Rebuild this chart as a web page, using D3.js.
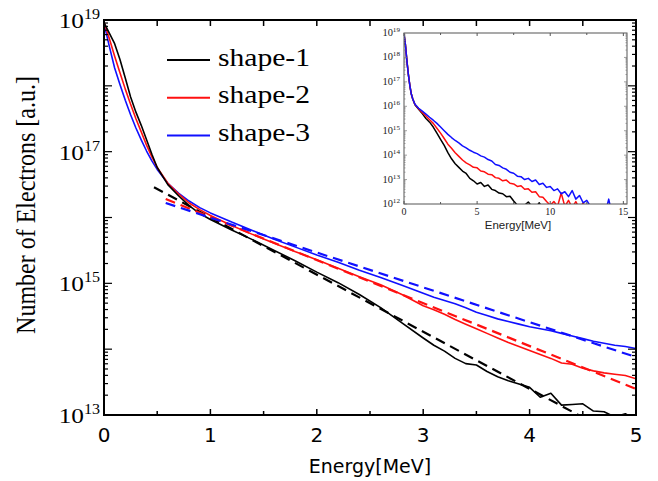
<!DOCTYPE html>
<html><head><meta charset="utf-8">
<script src="https://cdn.jsdelivr.net/npm/d3@7"></script>
<style>body{margin:0;background:#fff}</style></head>
<body>
<script>
// ---------- DATA (values are log10 of electron number) ----------
const mainEnergy = [0,0.05,0.1,0.15,0.2,0.25,0.3,0.35,0.4,0.45,0.5,0.6,0.7,0.8,0.9,1.0,1.2,1.4,1.6,1.8,2.0,2.2,2.4,2.6,2.8,3.0,3.1,3.2,3.3,3.4,3.5,3.6,3.7,3.8,3.9,4.0,4.1,4.2,4.3,4.4,4.5,4.6,4.7,4.8,4.9,5.0];
const shape1Log = [18.96,18.80,18.64,18.40,18.12,17.83,17.60,17.40,17.18,16.96,16.76,16.50,16.33,16.18,16.06,15.97,15.81,15.66,15.50,15.34,15.17,15.01,14.83,14.63,14.40,14.17,14.06,13.97,13.86,13.78,13.76,13.66,13.58,13.52,13.47,13.42,13.27,13.33,13.15,13.16,13.17,13.06,13.05,12.97,13.02,12.92];
const shape2Log = [18.97,18.72,18.45,18.20,17.95,17.72,17.50,17.30,17.10,16.92,16.76,16.52,16.36,16.22,16.12,16.03,15.88,15.74,15.61,15.48,15.36,15.23,15.10,14.98,14.83,14.66,14.60,14.53,14.45,14.38,14.31,14.24,14.17,14.10,14.04,13.98,13.92,13.86,13.79,13.77,13.71,13.67,13.64,13.62,13.60,13.55];
const shape3Log = [18.95,18.60,18.27,18.02,17.78,17.56,17.36,17.18,17.01,16.86,16.73,16.52,16.37,16.25,16.15,16.07,15.93,15.80,15.67,15.55,15.43,15.32,15.20,15.09,14.97,14.85,14.79,14.74,14.69,14.63,14.56,14.51,14.46,14.42,14.38,14.34,14.31,14.28,14.24,14.20,14.16,14.12,14.09,14.06,14.04,14.01];
// exponential fits: [start, end] energy and log10 value
const fit1Energy = [0.47, 5.0], fit1Log = [16.46, 12.53];
const fit2Energy = [0.58, 5.0], fit2Log = [16.28, 13.395];
const fit3Energy = [0.58, 5.0], fit3Log = [16.22, 13.88];
const seriesNames = ["shape-1", "shape-2", "shape-3"];
const seriesColors = ["#000000", "#ff1010", "#1010ff"];
const mainXTicks = [0, 1, 2, 3, 4, 5];
const mainYLabelExps = [19, 17, 15, 13];

// inset (full spectrum)
const insetEnergy = [0,0.1,0.2,0.3,0.4,0.5,0.6,0.75,1.0,1.25,1.5,1.75,2.0,2.25,2.5,2.75,3.0,3.25,3.5,3.75,4.0,4.25,4.5,4.75,5.0,5.25,5.5,5.75,6.0,6.25,6.5,6.75,7.0,7.25,7.5,7.75,8.0,8.25,8.5,8.75,9.0,9.25,9.5,9.75,10.0,10.25,10.5,10.75,11.0,11.25,11.5,11.75,12.0,12.25,12.5,12.75,13.0,13.25,13.5,13.75,14.0,14.25,14.5];
const inset1Log = [18.95,18.5,17.85,17.3,16.85,16.5,16.3,16.06,15.88,15.7,15.5,15.35,15.15,14.9,14.65,14.4,14.1,13.85,13.65,13.5,13.35,13.25,13.05,12.95,12.82,12.88,12.72,12.78,12.6,12.55,12.45,12.42,12.3,12.32,12.12,11.95,11.9,11.95,12.08,11.9,11.85,12.05,11.8,11.7,11.6,11.5,11.4,11.4,11.3,11.3,11.2,11.2,11.1,11.1,11.1,11.0,11.0,11.0,11.0,11.0,11.0,11.0,11.0];
const inset2Log = [18.95,18.5,17.85,17.3,16.85,16.5,16.3,16.07,15.9,15.75,15.6,15.45,15.3,15.1,14.9,14.68,14.45,14.28,14.1,13.95,13.8,13.68,13.6,13.5,13.48,13.35,13.32,13.22,13.2,13.08,13.05,12.95,12.98,12.85,12.82,12.72,12.75,12.6,12.62,12.48,12.5,12.3,12.28,12.1,11.95,12.1,11.9,12.45,11.9,12.15,11.85,12.1,11.8,12.05,11.7,11.6,11.5,11.5,11.4,11.4,11.3,11.3,11.2];
const inset3Log = [18.95,18.5,17.85,17.3,16.85,16.5,16.3,16.08,15.92,15.8,15.68,15.55,15.43,15.3,15.15,15.0,14.85,14.72,14.6,14.5,14.38,14.3,14.2,14.12,14.06,13.97,13.92,13.82,13.76,13.62,13.58,13.48,13.42,13.3,13.26,13.14,13.12,13.0,13.05,12.92,12.98,12.8,12.85,12.68,12.72,12.55,12.62,12.42,12.5,12.3,12.55,12.2,12.35,12.05,12.15,11.9,11.7,11.6,11.5,11.6,12.2,11.5,11.4];
const insetXTicks = [0, 5, 10, 15];
const insetYExps = [19, 18, 17, 16, 15, 14, 13, 12];

// ---------- DRAW ----------
const W = 658, H = 481;
const svg = d3.select("body").append("svg").attr("width", W).attr("height", H);
const serif = "'Liberation Serif','Times New Roman',serif";
const sans = "'DejaVu Sans',Verdana,sans-serif";

const x = d3.scaleLinear().domain([0, 5]).range([104, 636]);
const y = d3.scaleLog().domain([1e13, 1e19]).range([415, 20]);
const L = 104, R = 636, T = 20, B = 415;

svg.append("clipPath").attr("id", "mainClip").append("rect")
  .attr("x", L).attr("y", T).attr("width", R - L).attr("height", B - T);

const line = d3.line().x(d => x(d[0])).y(d => y(d[1]));
const plot = svg.append("g").attr("clip-path", "url(#mainClip)");

const mainSeries = [shape1Log, shape2Log, shape3Log];
[2, 1, 0].forEach(i => {
  plot.append("path")
    .datum(mainEnergy.map((e, k) => [e, Math.pow(10, mainSeries[i][k])]))
    .attr("d", line).attr("fill", "none")
    .attr("stroke", seriesColors[i]).attr("stroke-width", 1.6)
    .attr("stroke-linejoin", "round");
});
const fits = [[fit1Energy, fit1Log], [fit2Energy, fit2Log], [fit3Energy, fit3Log]];
[0, 1, 2].forEach(i => {
  const [fe, fl] = fits[i];
  plot.append("path")
    .datum(fe.map((e, k) => [e, Math.pow(10, fl[k])]))
    .attr("d", line).attr("fill", "none")
    .attr("stroke", seriesColors[i]).attr("stroke-width", 2.2)
    .attr("stroke-dasharray", "10,6");
});

// frame
svg.append("rect").attr("x", L).attr("y", T).attr("width", R - L).attr("height", B - T)
  .attr("fill", "none").attr("stroke", "#000").attr("stroke-width", 2);

// x ticks (bottom and top, inward)
const xMinor = d3.range(0, 5.01, 0.5);
xMinor.forEach(v => {
  const major = Math.abs(v - Math.round(v)) < 1e-6;
  const len = major ? 6 : 4;
  svg.append("line").attr("x1", x(v)).attr("x2", x(v)).attr("y1", B).attr("y2", B - len)
    .attr("stroke", "#000").attr("stroke-width", 1.5);
  svg.append("line").attr("x1", x(v)).attr("x2", x(v)).attr("y1", T).attr("y2", T + 6)
    .attr("stroke", "#000").attr("stroke-width", 1.5);
});
// y ticks (left and right)
for (let e = 13; e < 19; e++) {
  for (let m = 1; m < 10; m++) {
    const v = m * Math.pow(10, e);
    const len = m === 1 ? 8 : 4;
    svg.append("line").attr("x1", L).attr("x2", L + len).attr("y1", y(v)).attr("y2", y(v))
      .attr("stroke", "#000").attr("stroke-width", 1.2);
    svg.append("line").attr("x1", R).attr("x2", R - len).attr("y1", y(v)).attr("y2", y(v))
      .attr("stroke", "#000").attr("stroke-width", 1.2);
  }
}

// x tick labels
svg.selectAll(".xl").data(mainXTicks).enter().append("text")
  .attr("x", d => x(d)).attr("y", 442).attr("text-anchor", "middle")
  .attr("font-family", sans).attr("font-size", 20).text(d => d);
svg.append("text").attr("x", 370).attr("y", 473).attr("text-anchor", "middle")
  .attr("font-family", sans).attr("font-size", 19).text("Energy[MeV]");

// y tick labels
mainYLabelExps.forEach(e => {
  const g = svg.append("g").attr("transform", `translate(100,${y(Math.pow(10, e)) + 8}) scale(1.15,1)`);
  const t = g.append("text").attr("text-anchor", "end").attr("font-family", serif).attr("font-size", 22);
  t.append("tspan").text("10");
  t.append("tspan").attr("font-size", 14).attr("dy", -9).text(e);
});
svg.append("text").attr("transform", "translate(35,205) scale(1.15,1) rotate(-90)")
  .attr("text-anchor", "middle").attr("font-family", serif).attr("font-size", 24)
  .text("Number of Electrons [a.u.]");

// legend
seriesNames.forEach((name, i) => {
  const ly = 60 + i * 37.7;
  svg.append("line").attr("x1", 167).attr("x2", 210).attr("y1", ly).attr("y2", ly)
    .attr("stroke", seriesColors[i]).attr("stroke-width", 2);
  svg.append("text").attr("x", 218).attr("y", ly + 5.5)
    .attr("font-family", serif).attr("font-size", 25)
    .attr("textLength", 92).attr("lengthAdjust", "spacingAndGlyphs").text(name);
});

// ---------- INSET ----------
const xi = d3.scaleLinear().domain([0, 15.25]).range([404, 627]);
const yi = d3.scaleLog().domain([1e12, 1e19]).range([204, 33]);
const iL = 404, iR = 627, iT = 33, iB = 204;
svg.append("rect").attr("x", iL).attr("y", iT).attr("width", iR - iL).attr("height", iB - iT)
  .attr("fill", "#fff");
svg.append("clipPath").attr("id", "insetClip").append("rect")
  .attr("x", iL).attr("y", iT).attr("width", iR - iL).attr("height", iB - iT);
const iline = d3.line().x(d => xi(d[0])).y(d => yi(d[1]));
const ig = svg.append("g").attr("clip-path", "url(#insetClip)");
const insetSeries = [inset1Log, inset2Log, inset3Log];
[0, 1, 2].forEach(i => {
  ig.append("path")
    .datum(insetEnergy.map((e, k) => [e, Math.pow(10, insetSeries[i][k])]))
    .attr("d", iline).attr("fill", "none")
    .attr("stroke", seriesColors[i]).attr("stroke-width", 1.5)
    .attr("stroke-linejoin", "round");
});
svg.append("rect").attr("x", iL).attr("y", iT).attr("width", iR - iL).attr("height", iB - iT)
  .attr("fill", "none").attr("stroke", "#555").attr("stroke-width", 1);
// inset ticks
d3.range(0, 15.01, 2.5).forEach(v => {
  const len = v % 5 === 0 ? 3 : 2;
  svg.append("line").attr("x1", xi(v)).attr("x2", xi(v)).attr("y1", iB).attr("y2", iB - len).attr("stroke", "#555");
  svg.append("line").attr("x1", xi(v)).attr("x2", xi(v)).attr("y1", iT).attr("y2", iT + len).attr("stroke", "#555");
});
for (let e = 12; e < 19; e++) {
  for (let m = 1; m < 10; m++) {
    const v = m * Math.pow(10, e);
    const len = m === 1 ? 3 : 1.5;
    svg.append("line").attr("x1", iL).attr("x2", iL + len).attr("y1", yi(v)).attr("y2", yi(v)).attr("stroke", "#777").attr("stroke-width", 0.7);
    svg.append("line").attr("x1", iR).attr("x2", iR - len).attr("y1", yi(v)).attr("y2", yi(v)).attr("stroke", "#777").attr("stroke-width", 0.7);
  }
}
insetYExps.forEach(e => {
  const g = svg.append("g").attr("transform", `translate(400,${yi(Math.pow(10, e)) + 3}) scale(1.1,1)`);
  const t = g.append("text").attr("text-anchor", "end").attr("font-family", serif).attr("font-size", 9.5).attr("fill", "#222");
  t.append("tspan").text("10");
  t.append("tspan").attr("font-size", 6.5).attr("dy", -4).text(e);
});
svg.selectAll(".ixl").data(insetXTicks).enter().append("text")
  .attr("x", d => xi(d)).attr("y", 214.5).attr("text-anchor", "middle")
  .attr("font-family", serif).attr("font-size", 10).attr("fill", "#222").text(d => d);
svg.append("text").attr("x", 518).attr("y", 228.5).attr("text-anchor", "middle")
  .attr("font-family", "'Liberation Sans',Arial,sans-serif").attr("font-size", 11.5).attr("fill", "#222")
  .text("Energy[MeV]");
</script>
</body></html>
